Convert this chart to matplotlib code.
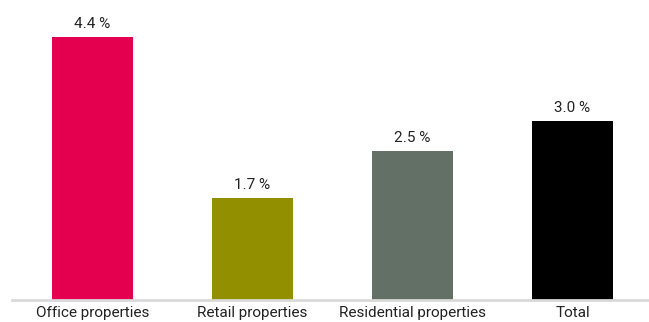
import matplotlib.pyplot as plt

categories = ['Office properties', 'Retail properties', 'Residential properties', 'Total']
values = [4.4, 1.7, 2.5, 3.0]
colors = ['#E4004F', '#929000', '#637065', '#000000']

plt.rcParams['font.family'] = ['Roboto', 'DejaVu Sans']

W, H = 649, 322
fig = plt.figure(figsize=(W / 100, H / 100), dpi=100)
ax = fig.add_axes([12 / W, (H - 300) / H, (648 - 12) / W, 300 / H])

x = range(len(categories))
ax.bar(x, values, width=0.506, color=colors)
for i, v in zip(x, values):
    ax.text(i, v + 0.1, f'{v:.1f} %', ha='center', va='bottom', fontsize=11, color='#222222')

ax.set_xlim(-80.5 / 160, (648 - 92.5) / 160)
ax.set_ylim(0, 300 / (263 / 4.4))
ax.set_xticks(list(x))
ax.set_xticklabels(categories, fontsize=11, color='#222222')
ax.tick_params(axis='x', length=0, pad=4)
ax.set_yticks([])
for s in ['top', 'right', 'left']:
    ax.spines[s].set_visible(False)
ax.spines['bottom'].set_color('#d9d9d9')
ax.spines['bottom'].set_linewidth(2)

fig.savefig('out.png', dpi=100)
